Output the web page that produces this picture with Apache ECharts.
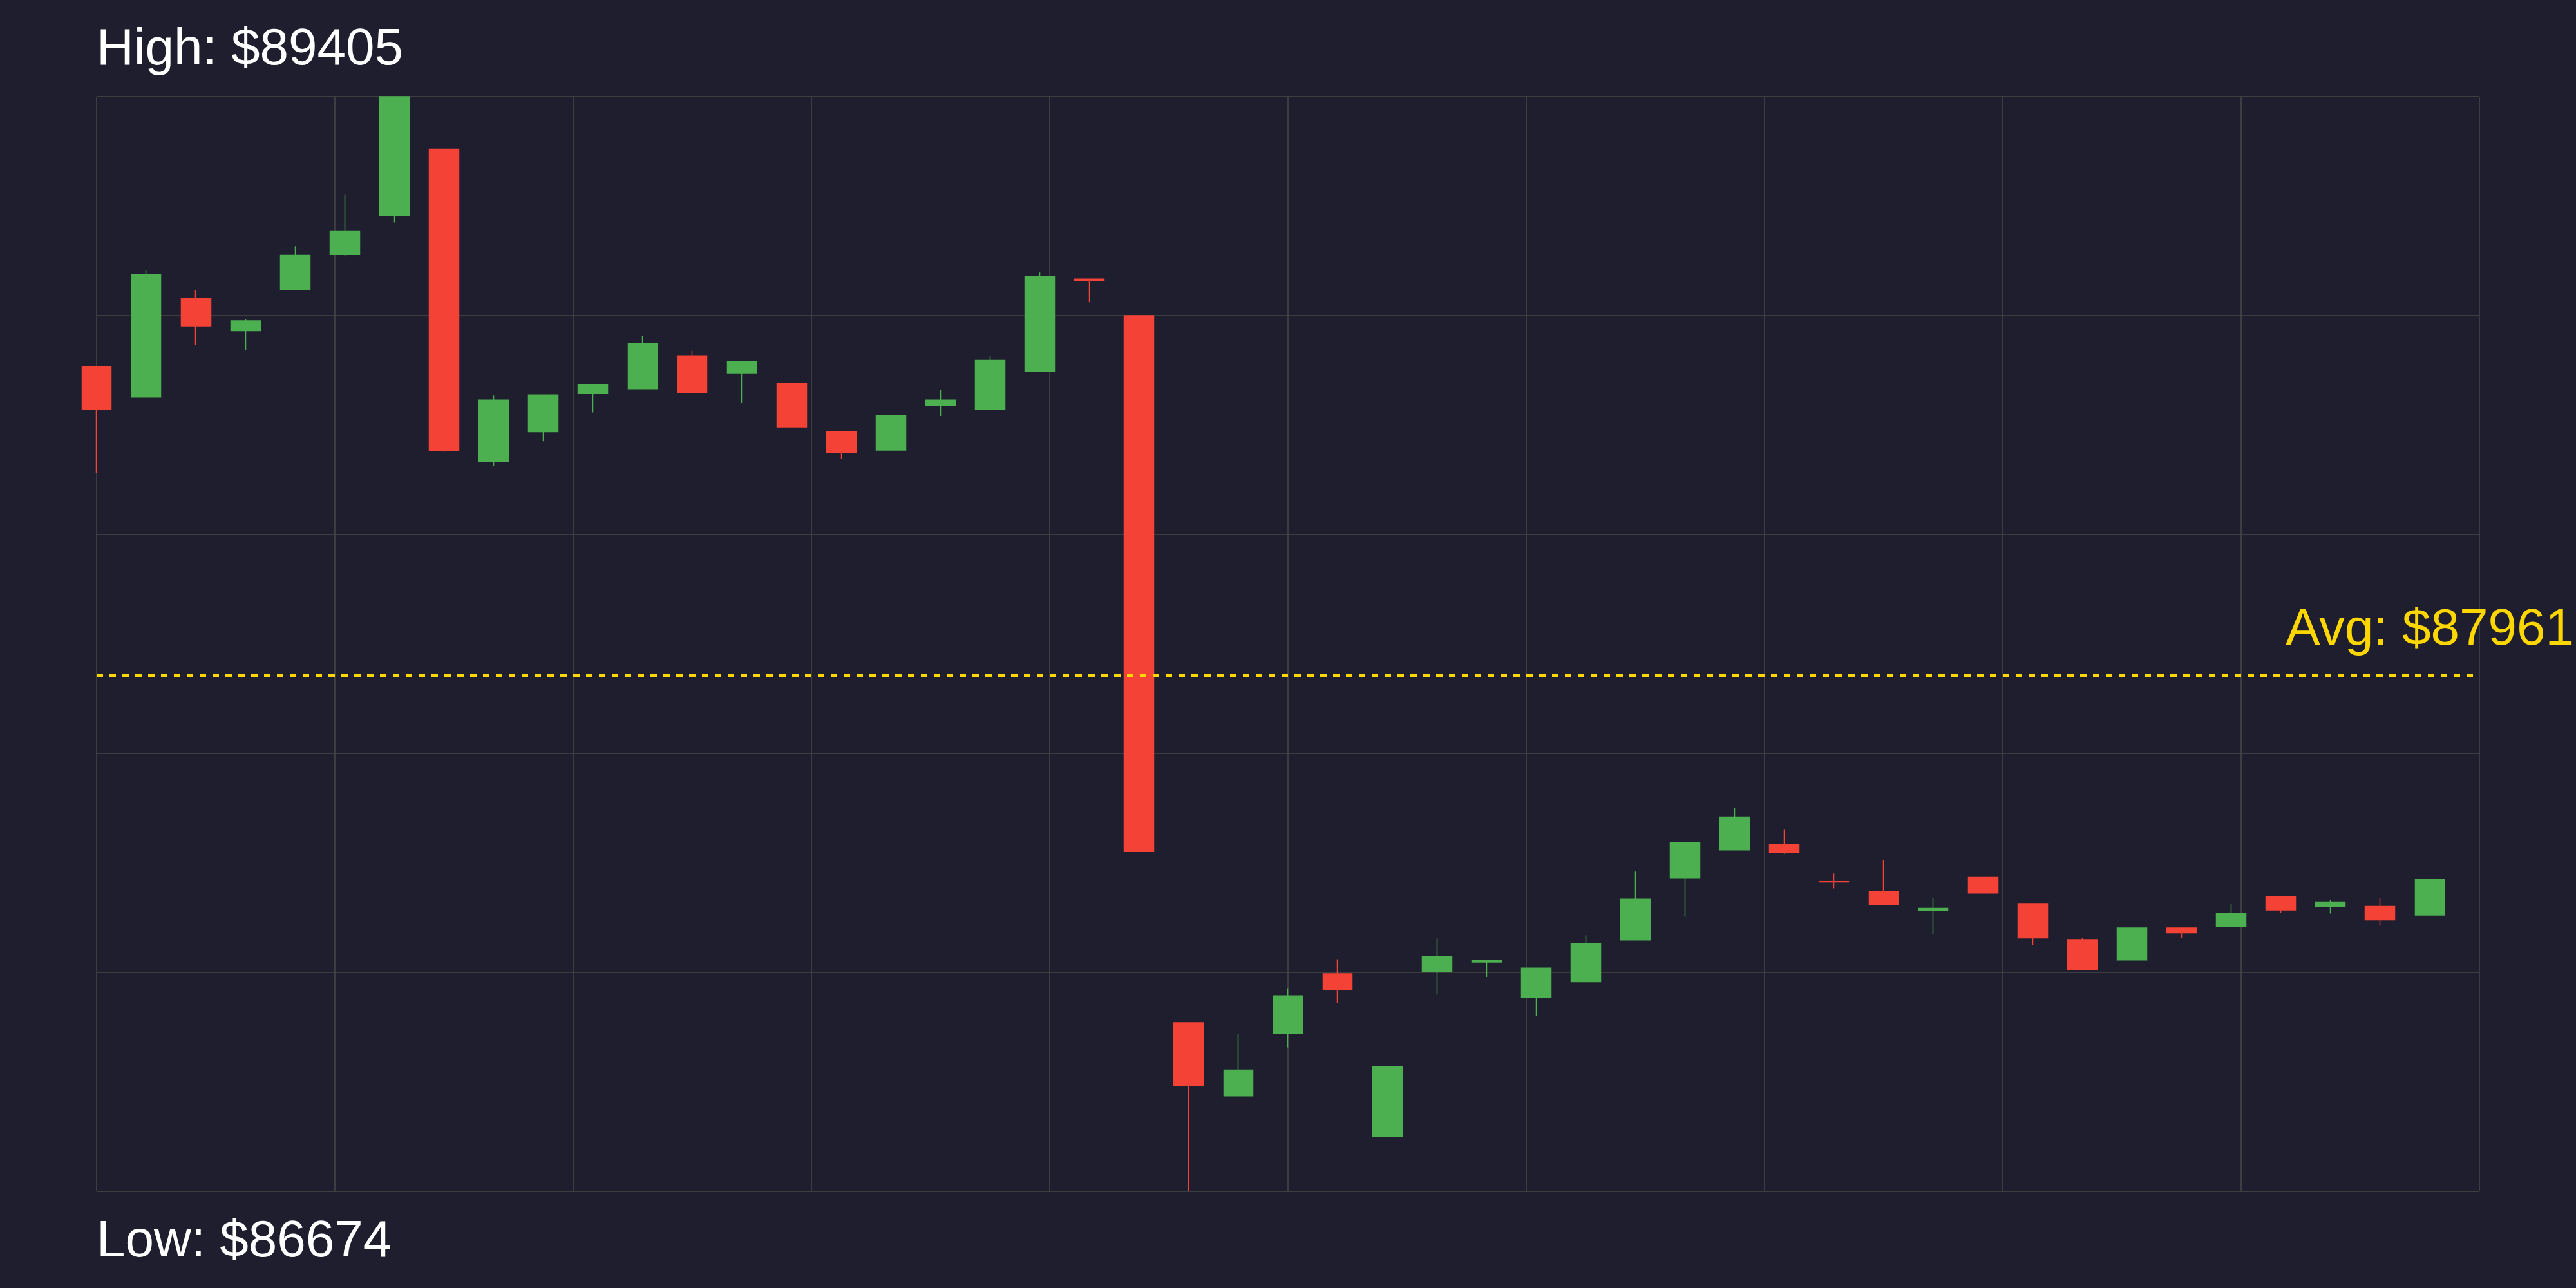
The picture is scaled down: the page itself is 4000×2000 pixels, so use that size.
<!DOCTYPE html>
<html>
<head>
<meta charset="utf-8">
<script src="https://cdn.jsdelivr.net/npm/echarts@6/dist/echarts.min.js"></script>
<style>
html,body{margin:0;padding:0;background:#1e1e2e;}
#chart{width:4000px;height:2000px;}
</style>
</head>
<body>
<div id="chart"></div>
<script>
const slots = [0,1,2,3,4,5,6,7,8,9,10,11,12,13,14,15,16,17,18,19,20,21,22,23,24,25,26,27,28,29,30,31,32,33,34,35,36,37,38,39,40,41,42,43,44,45,46,47];
const opens = [88731,88655,88901,88821,88924,89011,89108,89274,88495,88569,88664,88676,88757,88716,88689,88570,88523,88635,88625,88719,88950,88859,87095,86912,87068,87217,86810,87222,87246,87157,87197,87301,87455,87526,87540,87447,87422,87374,87457,87392,87302,87251,87331,87334,87410,87384,87385,87363];
const closes = [88625,88961,88833,88846,89009,89070,89405,88521,88648,88661,88687,88790,88667,88745,88581,88518,88609,88648,88747,88956,88945,87522,86938,86977,87162,87177,86985,87259,87251,87231,87292,87403,87544,87608,87520,87446,87390,87380,87418,87306,87228,87331,87319,87368,87376,87396,87351,87452];
const lows = [88466,88655,88785,88772,88924,89006,89091,88519,88484,88545,88617,88676,88667,88641,88580,88502,88522,88608,88624,88719,88892,87521,86674,86912,87033,87144,86810,87165,87209,87111,87197,87301,87359,87526,87516,87430,87390,87316,87418,87289,87228,87251,87307,87334,87369,87367,87337,87363];
const highs = [88731,88972,88922,88850,89032,89160,89405,89275,88659,88661,88687,88808,88771,88746,88689,88570,88609,88674,88757,88966,88950,88859,87095,87067,87181,87253,86985,87305,87251,87231,87313,87472,87544,87631,87576,87467,87501,87407,87457,87392,87306,87331,87331,87390,87410,87401,87406,87452];
const highValue = 89405;
const lowValue = 86674;
const avgValue = 87961;
const slotCount = 48;

const data = slots.map((s, i) => [s, opens[i], closes[i], lows[i], highs[i]]);
const FONT = "'Liberation Sans', Arial, sans-serif";

const chart = echarts.init(document.getElementById('chart'), null, {renderer: 'canvas'});
chart.setOption({
  backgroundColor: '#1e1e2e',
  animation: false,
  grid: {left: 150, right: 150, top: 150, bottom: 150, containLabel: false},
  xAxis: {
    type: 'value', min: 0, max: slotCount, interval: slotCount / 10,
    axisLine: {show: false}, axisTick: {show: false}, axisLabel: {show: false},
    splitLine: {show: true, lineStyle: {color: '#484848', width: 1.5}}
  },
  yAxis: {
    type: 'value', min: lowValue, max: highValue, interval: (highValue - lowValue) / 5,
    scale: true,
    axisLine: {show: false}, axisTick: {show: false}, axisLabel: {show: false},
    splitLine: {show: true, lineStyle: {color: '#484848', width: 1.5}}
  },
  graphic: [
    {type: 'text', x: 150, y: 78, style: {text: 'High: $' + highValue, fill: '#ffffff', font: '80px ' + FONT, align: 'left', verticalAlign: 'middle'}},
    {type: 'text', x: 150, y: 1929, style: {text: 'Low: $' + lowValue, fill: '#ffffff', font: '80px ' + FONT, align: 'left', verticalAlign: 'middle'}}
  ],
  series: [{
    type: 'candlestick',
    data: data,
    encode: {x: 0, y: [1, 2, 3, 4]},
    barWidth: '60%',
    itemStyle: {
      color: '#4caf50', color0: '#f44336',
      borderColor: '#4caf50', borderColor0: '#f44336',
      borderWidth: 1.5
    },
    markLine: {
      silent: true,
      symbol: ['none', 'none'],
      data: [{yAxis: avgValue}],
      lineStyle: {color: '#FFD700', width: 4, type: [10, 10]},
      label: {
        show: true, position: 'end', formatter: 'Avg: $' + avgValue,
        color: '#FFD700', fontSize: 80, fontFamily: FONT,
        align: 'right', verticalAlign: 'middle', offset: [142, -70]
      }
    }
  }]
});
</script>
</body>
</html>
